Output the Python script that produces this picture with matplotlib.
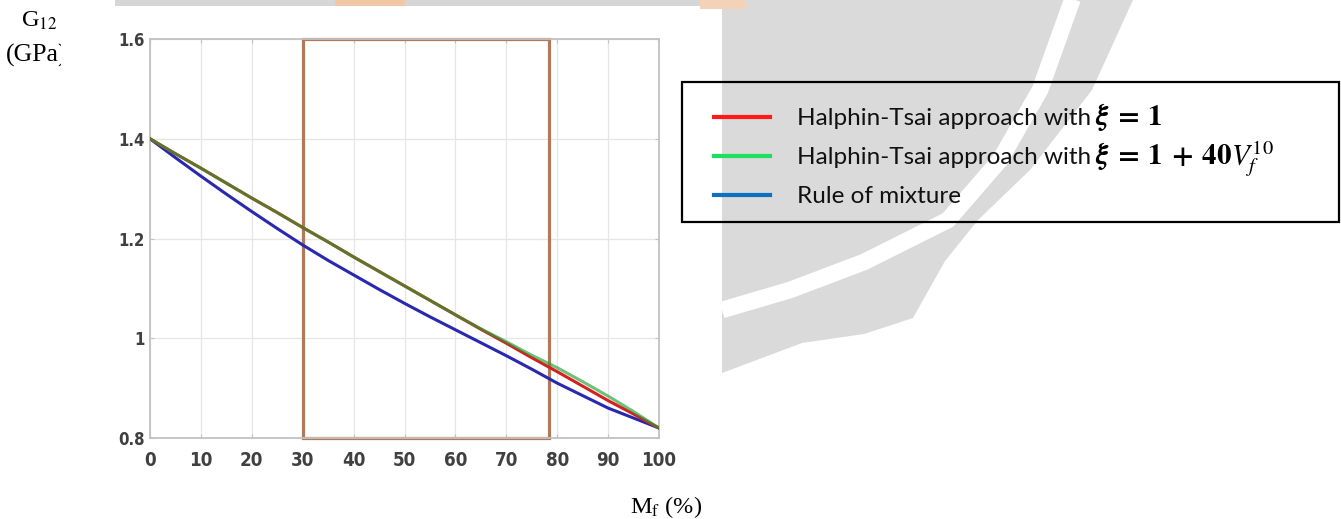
import matplotlib
matplotlib.use('Agg')
import matplotlib.pyplot as plt
from matplotlib.patches import Rectangle, Polygon
from matplotlib.lines import Line2D
from matplotlib.transforms import Bbox, TransformedBbox, IdentityTransform

# ---------------- data ----------------
mf = [0, 5, 10, 15, 20, 25, 30, 35, 40, 45, 50, 55, 60, 65, 70, 75, 80, 85, 90, 95, 100]
g_ht_xi1 = [1.400, 1.370, 1.341, 1.311, 1.281, 1.252, 1.222, 1.193, 1.163, 1.134, 1.105,
            1.076, 1.047, 1.018, 0.990, 0.961, 0.933, 0.904, 0.875, 0.848, 0.820]
g_ht_xi40 = [1.400, 1.370, 1.341, 1.311, 1.281, 1.252, 1.222, 1.193, 1.163, 1.134, 1.105,
             1.076, 1.047, 1.019, 0.993, 0.966, 0.941, 0.913, 0.884, 0.853, 0.820]
g_rom = [1.400, 1.362, 1.325, 1.289, 1.254, 1.220, 1.187, 1.156, 1.127, 1.098, 1.070,
         1.043, 1.017, 0.991, 0.965, 0.938, 0.910, 0.885, 0.860, 0.840, 0.820]

x_ticks = [0, 10, 20, 30, 40, 50, 60, 70, 80, 90, 100]
x_labels = ['0', '10', '20', '30', '40', '50', '60', '70', '80', '90', '100']
y_ticks = [0.8, 1.0, 1.2, 1.4, 1.6]
y_labels = ['0.8', '1', '1.2', '1.4', '1.6']

box_mf = [30, 78.3]
box_g = [0.8, 1.6]

legend_text = ['Halphin-Tsai approach with', 'Halphin-Tsai approach with', 'Rule of mixture']
legend_math = ['$\\boldsymbol{\\xi\\;=\\;1}$',
               '$\\boldsymbol{\\xi\\;=\\;1\\;+\\;40V_f^{10}}$', '']

# ---------------- figure ----------------
plt.rcParams['font.family'] = ['Lato', 'DejaVu Sans']
plt.rcParams['mathtext.fontset'] = 'stix'

W, H = 1341, 519
fig = plt.figure(figsize=(W / 100, H / 100), dpi=100)
fig.patch.set_facecolor('white')


def px(x, y):
    return (x / W, 1 - y / H)


# watermark (background decoration)
outer = [(722, 0), (1133, 0), (1092, 90), (1030, 170), (978, 220), (945, 261),
         (913, 318), (864, 334), (802, 343), (722, 373)]
fig.add_artist(Polygon([px(*p) for p in outer], closed=True, transform=fig.transFigure,
                       facecolor='#dadada', edgecolor='none', zorder=0))
band = [(1074, -5), (1040, 90), (1000, 160), (948, 220), (864, 262), (790, 290), (722, 310)]
fig.add_artist(Line2D([px(*p)[0] for p in band], [px(*p)[1] for p in band],
                      transform=fig.transFigure, color='white', lw=12,
                      solid_capstyle='butt', solid_joinstyle='round', zorder=0.5))
fig.add_artist(Rectangle(px(115, 6), (722 - 115) / W, 6 / H, transform=fig.transFigure,
                         facecolor='#d6d6d6', edgecolor='none', zorder=0))
fig.add_artist(Rectangle(px(335, 6), 70 / W, 6 / H, transform=fig.transFigure,
                         facecolor='#f2c7a6', edgecolor='none', zorder=0.2))
fig.add_artist(Rectangle(px(700, 9), 45 / W, 9 / H, transform=fig.transFigure,
                         facecolor='#f4d2b8', edgecolor='none', zorder=0.2))

# axes
ax = fig.add_axes([150 / W, 1 - 438 / H, 509 / W, 399 / H])
ax.set_facecolor('white')
ax.set_xlim(0, 100)
ax.set_ylim(0.8, 1.6)
ax.set_xticks(x_ticks)
ax.set_xticklabels(x_labels)
ax.set_yticks(y_ticks)
ax.set_yticklabels(y_labels)
ax.grid(True, color='#e6e6e6', lw=0.9)
ax.set_axisbelow(True)
for s in ax.spines.values():
    s.set_color('#c2c2c2')
    s.set_linewidth(1.3)
ax.tick_params(direction='in', length=3, width=0.8, color='#c2c2c2', top=True, right=True)
ax.tick_params(axis='x', pad=9, labelsize=13.5)
ax.tick_params(axis='y', pad=4, labelsize=12)
for lab in ax.get_xticklabels() + ax.get_yticklabels():
    lab.set_family(['DejaVu Sans'])
    lab.set_fontstretch('condensed')
    lab.set_fontweight('bold')
    lab.set_color('#404040')

ax.add_patch(Rectangle((box_mf[0], box_g[0]), box_mf[1] - box_mf[0], box_g[1] - box_g[0],
                       fill=False, edgecolor='#b07a5a', lw=2.3, clip_on=False, zorder=2.5))
ax.plot(mf, g_rom, color='#2828b0', lw=2.2, zorder=3)
ax.plot(mf, g_ht_xi1, color='#d42020', lw=2.2, zorder=3.1)
ax.plot(mf, g_ht_xi40, color='#20a030', lw=2.2, alpha=0.65, zorder=3.2)

# legend (drawn like the pasted legend box)
handles = [Line2D([], [], color='#ff1a1a', lw=3),
           Line2D([], [], color='#1ee060', lw=3),
           Line2D([], [], color='#1070c0', lw=3)]
fs = 17.5
fspx = fs * 100 / 72
leg = fig.legend(handles, legend_text, loc='upper left', bbox_to_anchor=px(714, 108),
                 bbox_transform=fig.transFigure, frameon=False,
                 prop={'family': ['Lato', 'DejaVu Sans'], 'size': fs},
                 handlelength=56 / fspx, handletextpad=27 / fspx, labelspacing=0.74,
                 borderpad=0, borderaxespad=0)
for t in leg.get_texts():
    t.set_color('#111111')
fig.add_artist(Rectangle(px(682, 222), (1339 - 682) / W, (222 - 82) / H,
                         transform=fig.transFigure, fill=False, edgecolor='black',
                         lw=1.6, zorder=5))

# axis labels
serif = ['Liberation Serif', 'DejaVu Serif']
fig.text(21 / W, 1 - 27 / H, 'G$_{\\mathrm{12}}$', family=serif, size=17.5,
         ha='left', va='baseline')
t = fig.text(6 / W, 1 - 62 / H, '(GPa)', family=serif, size=18.5, ha='left', va='baseline')
t.set_clip_box(TransformedBbox(Bbox([[0, 0], [61 / W, 1]]), fig.transFigure))
t.set_clip_on(True)
fig.text(630 / W, 1 - 513 / H, 'M$_{\\mathrm{f}}$ (%)', family=serif, size=17.5,
         ha='left', va='baseline')

# math parts of the legend labels, appended after the legend text
fig.canvas.draw()
for t, m in zip(leg.get_texts(), legend_math):
    if not m:
        continue
    ext = t.get_window_extent()
    bx, by = t.get_transform().transform(t.get_position())
    fig.text(ext.x1 + 4, by, m, transform=IdentityTransform(), ha='left',
             va='baseline', size=21, color='black', zorder=6)

fig.savefig('out.png', dpi=100)
